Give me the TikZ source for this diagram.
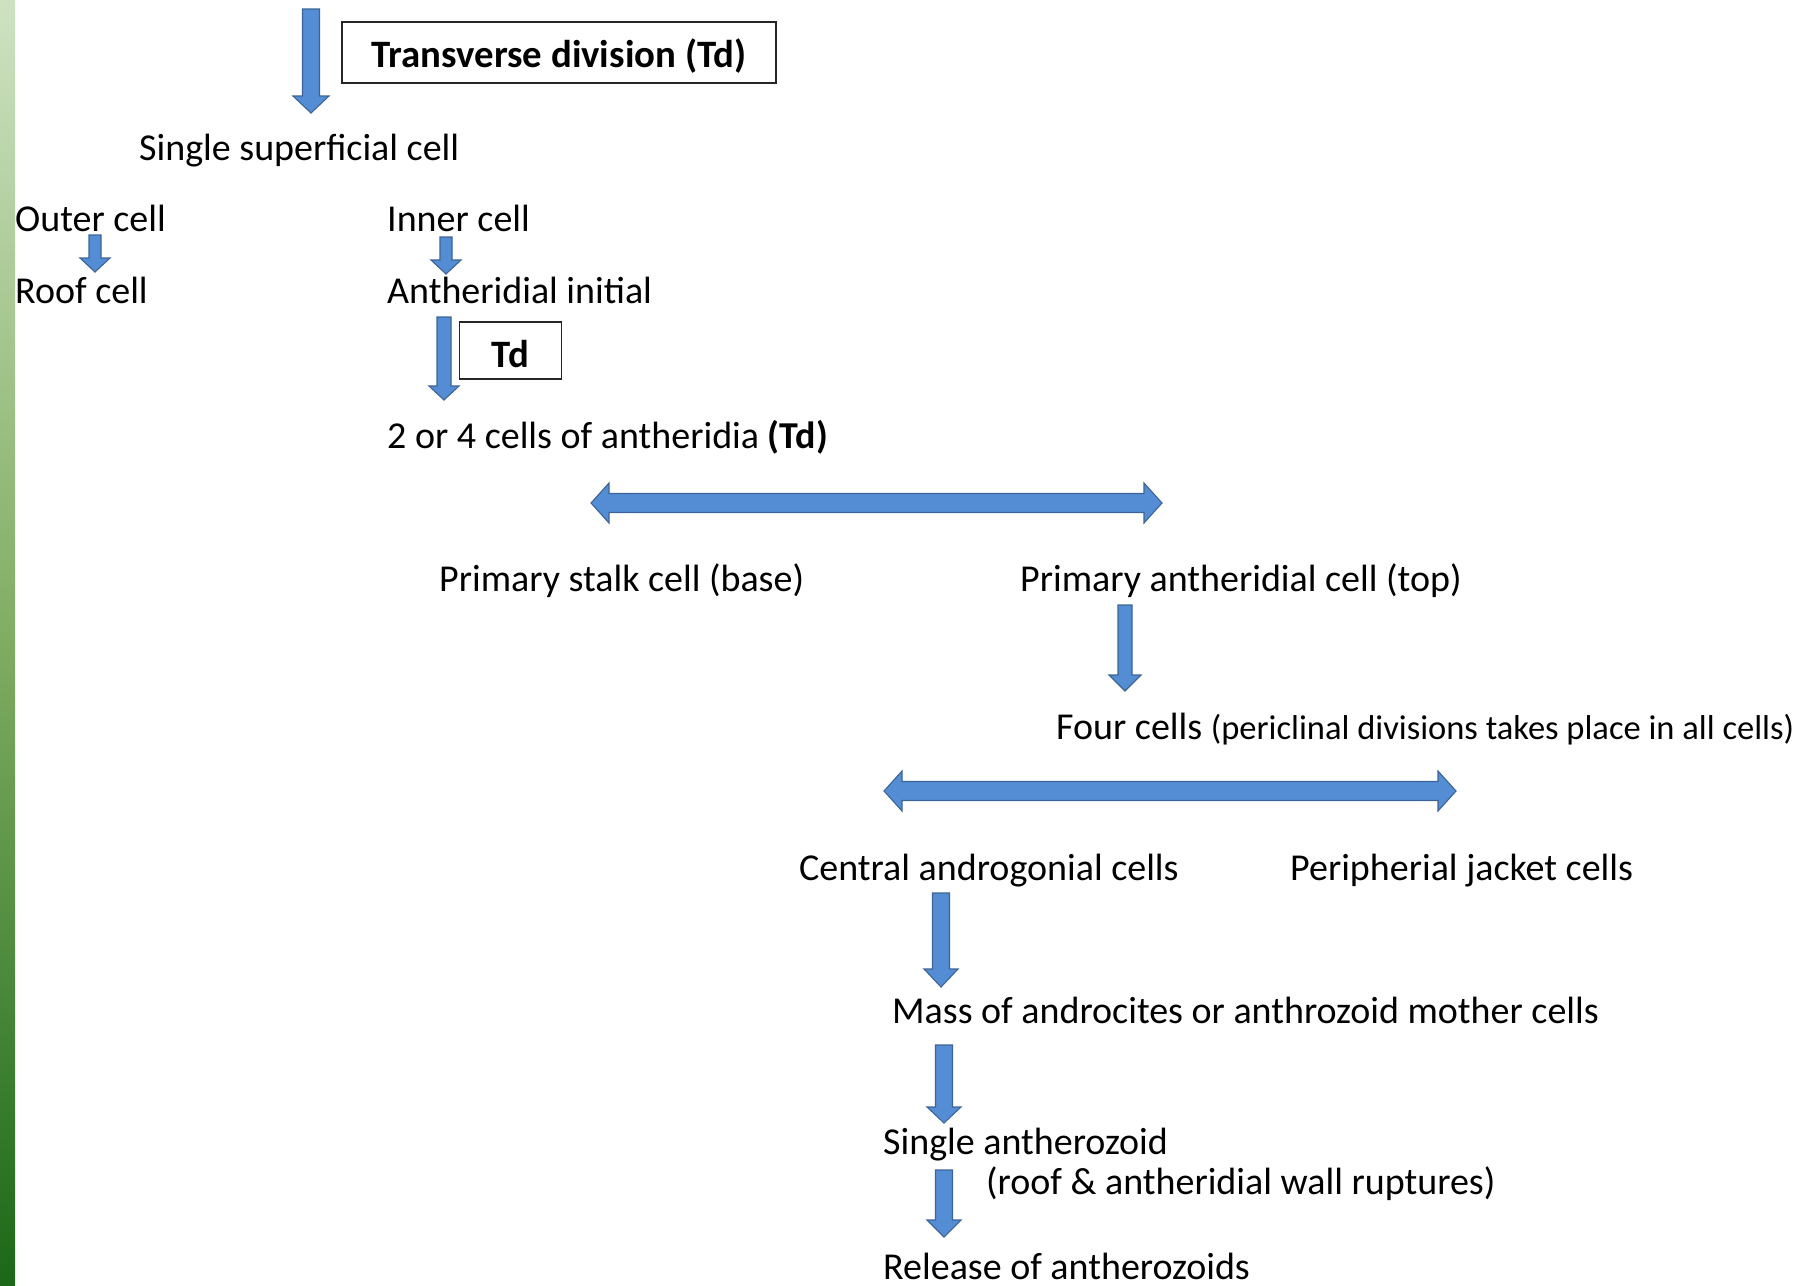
\documentclass[tikz,border=0pt]{standalone}
\usepackage{fontspec}
\setmainfont{Carlito}
\usepackage{tikz}
\usetikzlibrary{calc}
\definecolor{arrowfill}{RGB}{84,141,212}
\definecolor{arrowline}{RGB}{60,100,150}
\definecolor{striptop}{RGB}{206,226,194}
\definecolor{stripmid}{RGB}{128,172,98}
\definecolor{stripbot}{RGB}{28,104,24}
\newcommand{\ashaft}{8pt}
\newcommand{\ahead}{17pt}
\newcommand{\alen}{17pt}

\begin{document}
\begin{tikzpicture}[x=1pt, y=-1pt,
  txt/.style={anchor=base west, inner sep=0pt, font=\fontsize{38}{46}\selectfont},
  tdbox/.style={draw=black!85, line width=1.4pt, inner sep=0pt, font=\fontsize{38.8}{46}\selectfont\bfseries},
  dims/.code args={#1/#2/#3}{\def\ashaft{#1pt}\def\ahead{#2pt}\def\alen{#3pt}},
  blockdown/.style={draw=arrowline, fill=arrowfill, line width=1.1pt, line join=miter,
    to path={let \p1=(\tikztostart), \p2=(\tikztotarget) in
      (\x1-\ashaft,\y1) -- (\x1+\ashaft,\y1) -- (\x1+\ashaft,\y2+\alen) -- (\x1+\ahead,\y2+\alen)
      -- (\x1,\y2) -- (\x1-\ahead,\y2+\alen) -- (\x1-\ashaft,\y2+\alen) -- cycle}},
  blockboth/.style={draw=arrowline, fill=arrowfill, line width=1.1pt, line join=miter,
    to path={let \p1=(\tikztostart), \p2=(\tikztotarget) in
      (\x1,\y1) -- (\x1+\alen,\y1+\ahead) -- (\x1+\alen,\y1+\ashaft) -- (\x2-\alen,\y1+\ashaft)
      -- (\x2-\alen,\y1+\ahead) -- (\x2,\y1) -- (\x2-\alen,\y1-\ahead) -- (\x2-\alen,\y1-\ashaft)
      -- (\x1+\alen,\y1-\ashaft) -- (\x1+\alen,\y1-\ahead) -- cycle}}
]
\useasboundingbox (0,0) rectangle (1814,1285);
\fill[white] (0,0) rectangle (1814,1285);
% green side strip
\shade[top color=striptop, bottom color=stripbot, middle color=stripmid] (0,0) rectangle (15,1285);

\node[tdbox, minimum width=434pt, minimum height=61pt, text height=38pt, text depth=8pt] (transverse) at (559,52.5) {Transverse division (Td)};
\node[txt] (superficial) at (139,160) {Single superficial cell};
\node[txt] (outer) at (15,231) {Outer cell};
\node[txt] (inner) at (387,231) {Inner cell};
\node[txt] (roof) at (15,303) {Roof cell};
\node[txt] (initial) at (387,303) {Antheridial initial};
\node[tdbox, minimum width=102pt, minimum height=57pt, text height=40pt, text depth=6pt, xshift=-2pt] (tdsmall) at (512.5,350.5) {Td};
\node[txt] (cells) at (387,448) {2 or 4 cells of antheridia \textbf{(Td)}};
\node[txt] (stalk) at (439,591) {Primary stalk cell (base)};
\node[txt] (primant) at (1020,591) {Primary antheridial cell (top)};
\node[txt] (four) at (1056,739) {Four cells {\fontsize{34.5}{40}\selectfont(periclinal divisions takes place in all cells)}};
\node[txt] (central) at (799,880) {Central androgonial cells};
\node[txt] (jacket) at (1290,880) {Peripherial jacket cells};
\node[txt] (mass) at (892,1023) {Mass of androcites or anthrozoid mother cells};
\node[txt] (single) at (883,1154) {Single antherozoid};
\node[txt] (rupture) at (986,1194) {(roof \& antheridial wall ruptures)};
\node[txt] (release) at (883,1279) {Release of antherozoids};

\coordinate (topin) at (311,9);
\coordinate (splitL) at (591,503);
\coordinate (splitR) at (1162,503);
\coordinate (fourL) at (884,791);
\coordinate (fourR) at (1456,791);

\draw[blockdown, dims=8.5/18/17] (topin) to ([xshift=172pt,yshift=47pt]superficial.base west);
\draw[blockdown, dims=6/15/14] ([xshift=80pt,yshift=-4pt]outer.base west) to ([xshift=80pt,yshift=31pt]roof.base west);
\draw[blockdown, dims=6/15/14] ([xshift=59pt,yshift=-6pt]inner.base west) to ([xshift=59pt,yshift=29pt]initial.base west);
\draw[blockdown, dims=7/15/14] ([xshift=57pt,yshift=-14pt]initial.base west) to ([xshift=57pt,yshift=48pt]cells.base west);
\draw[blockboth, dims=9.5/20/18] (splitL) to (splitR);
\draw[blockdown, dims=7/16/16] ([xshift=105pt,yshift=-14pt]primant.base west) to ([xshift=105pt,yshift=48pt]four.base west);
\draw[blockboth, dims=9.5/20/18] (fourL) to (fourR);
\draw[blockdown, dims=8.5/17/18] ([xshift=142pt,yshift=-13pt]central.base west) to ([xshift=142pt,yshift=36pt]mass.base west);
\draw[blockdown, dims=8.5/17/16] ([xshift=52pt,yshift=-22pt]mass.base west) to ([xshift=52pt,yshift=31pt]single.base west);
\draw[blockdown, dims=8.5/17/17] ([xshift=61pt,yshift=-16pt]single.base west) to ([xshift=61pt,yshift=42pt]release.base west);
\end{tikzpicture}
\end{document}
